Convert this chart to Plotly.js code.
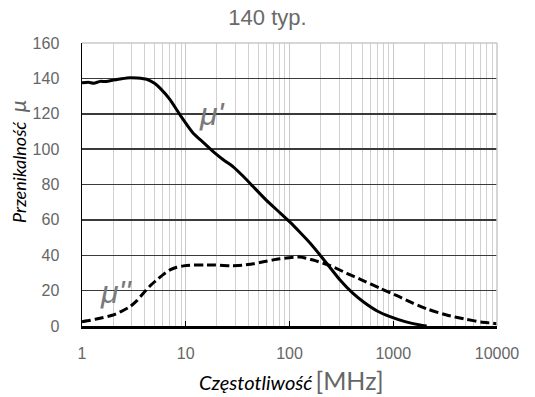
<!DOCTYPE html>
<html><head><meta charset="utf-8">
<script src="https://cdn.plot.ly/plotly-3.0.1.min.js"></script>
<style>html,body{margin:0;padding:0;background:#fff;}#chart{width:535px;height:397px;}</style>
</head><body><div id="chart"></div>
<script>
// μ' (real part)
const muRealFreq = [1, 1.15, 1.3, 1.5, 1.7, 2.0, 2.4, 2.9, 3.4, 4.2, 5.0, 5.65, 7.05, 8.8, 11.8, 15, 18.4, 23, 28.7, 36, 44.8, 60, 81, 100, 126, 160, 204, 250, 307, 400, 514, 700, 931, 1300, 1811, 2100];
const muRealVal  = [137.5, 137.8, 137.3, 138.3, 138.2, 139, 139.8, 140.4, 140.2, 139.5, 137.2, 134.5, 128, 119.4, 109, 103.4, 98.6, 94, 90, 84.5, 78.7, 71, 64, 59, 53, 46.5, 39, 32.5, 26, 19, 13.7, 8.5, 5.3, 2.5, 0.6, 0];
// μ'' (imaginary part)
const muImagFreq = [1, 1.2, 1.49, 2.0, 2.4, 2.9, 3.4, 3.9, 4.5, 5.25, 6.1, 7.05, 8.2, 9.5, 11, 15, 18.4, 26.7, 35, 45, 56, 80, 126, 169, 250, 356, 500, 745, 1100, 1560, 2200, 3270, 5000, 7000, 9200, 10000];
const muImagVal  = [2.4, 3.2, 4.4, 6.2, 8.3, 10.9, 14.5, 18.5, 22.5, 26, 29.2, 31.7, 33.2, 34, 34.4, 34.5, 34.5, 34, 34.3, 35.2, 36.3, 38, 39, 37.3, 34, 29.8, 26, 21.3, 17, 12.8, 9.3, 6.2, 3.8, 2.3, 1.5, 1.2];
const yTicks = [0, 20, 40, 60, 80, 100, 120, 140, 160];
const xTicks = [1, 10, 100, 1000, 10000];
const xTickLabels = ['1', '10', '100', '1000', '10000'];

const traces = [
  {x: muRealFreq, y: muRealVal, mode: 'lines', line: {color: '#000', width: 3, shape: 'spline', smoothing: 0.5}, showlegend: false, hoverinfo: 'skip'},
  {x: muImagFreq, y: muImagVal, mode: 'lines', line: {color: '#000', width: 3, dash: '9px,4px', shape: 'spline', smoothing: 0.5}, showlegend: false, hoverinfo: 'skip'}
];

const layout = {
  width: 535, height: 397,
  margin: {l: 82, r: 38, t: 43, b: 71},
  paper_bgcolor: '#fff', plot_bgcolor: '#fff',
  font: {family: 'Liberation Sans, Arial, sans-serif', color: '#666'},
  title: {text: '140 typ.', x: 0.5, xanchor: 'center', y: 0.957, yanchor: 'middle', font: {size: 22, color: '#6a6a6a'}},
  xaxis: {
    type: 'log', range: [0, 4],
    tickvals: xTicks, ticktext: xTickLabels,
    tickfont: {size: 16, color: '#666'},
    ticklabelstandoff: 11,
    showgrid: true, gridcolor: '#c8c8c8', gridwidth: 1,
    minor: {dtick: 'D1', showgrid: true, gridcolor: '#d0d0d0', gridwidth: 1, ticks: ''},
    ticks: 'inside', ticklen: 5, tickcolor: '#000', tickwidth: 1,
    showline: true, linecolor: '#000', linewidth: 2.5, mirror: false,
    zeroline: false
  },
  yaxis: {
    range: [0, 160], tickvals: yTicks,
    tickfont: {size: 16, color: '#666'},
    ticklabelstandoff: 18,
    showgrid: true, gridcolor: '#3a3a3a', gridwidth: 1.5,
    showline: true, linecolor: '#000', linewidth: 1.5,
    ticks: '', zeroline: false
  },
  shapes: [
    {type: 'line', xref: 'paper', yref: 'paper', x0: 0, x1: 1, y0: 1, y1: 1, line: {color: '#c8c8c8', width: 1.5}},
    {type: 'line', xref: 'paper', yref: 'paper', x0: 1, x1: 1, y0: 0, y1: 1, line: {color: '#c8c8c8', width: 1.5}}
  ],
  annotations: [
    {x: Math.log10(18.3), y: 120, xref: 'x', yref: 'y', text: "<i>μ'</i>", showarrow: false, font: {size: 32, color: '#7a7a7a', family: 'Liberation Sans, sans-serif'}},
    {x: Math.log10(2.13), y: 19, xref: 'x', yref: 'y', text: "<i>μ''</i>", showarrow: false, font: {size: 32, color: '#7a7a7a', family: 'Liberation Sans, sans-serif'}},
    {x: (291 - 82) / 415, y: -(380 - 326) / 283, xref: 'paper', yref: 'paper', xanchor: 'center', yanchor: 'middle',
     text: '<i><span style="color:#000;font-size:20px">Częstotliwość</span></i> <span style="font-size:25px">[MHz]</span>',
     showarrow: false, font: {family: 'Lato, Open Sans, sans-serif', color: '#666'}},
    {x: -(82 - 17) / 415, y: (326 - 162) / 283, xref: 'paper', yref: 'paper', xanchor: 'center', yanchor: 'middle', textangle: -90,
     text: '<i><span style="color:#000;font-size:18px">Przenikalność</span></i>   <i><span style="font-size:22px">μ</span></i>',
     showarrow: false, font: {family: 'Lato, Open Sans, sans-serif', color: '#666'}}
  ]
};

Plotly.newPlot('chart', traces, layout, {staticPlot: true, displayModeBar: false});
</script>
</body></html>
